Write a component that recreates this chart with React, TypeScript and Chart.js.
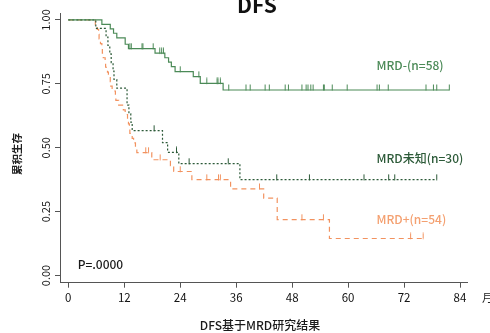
import React, { useEffect, useRef } from "react";
import { Chart, registerables } from "chart.js";

Chart.register(...registerables);

const FONT = '"Noto Sans CJK SC", "Noto Sans", sans-serif';

// axis ticks
const xTicks = [0, 12, 24, 36, 48, 60, 72, 84];
const xTickLabels = ["0", "12", "24", "36", "48", "60", "72", "84"];
const yTicks = [0, 0.25, 0.5, 0.75, 1];
const yTickLabels = ["0.00", "0.25", "0.50", "0.75", "1.00"];

// MRD- (n=58)
const negLabel = "MRD-(n=58)";
const negTimes = [7.2, 9.0, 9.7, 10.4, 12.2, 12.9, 18.6, 20.7, 21.5, 22.1, 22.9, 26.8, 28.3, 33.2];
const negSurv = [0.983, 0.965, 0.948, 0.93, 0.905, 0.888, 0.87, 0.852, 0.835, 0.817, 0.798, 0.778, 0.752, 0.726];
const negCensor = [13.2, 13.5, 15.8, 16.0, 18.2, 19.6, 20.0, 20.4, 24.0, 28.0, 29.7, 31.9, 32.1, 32.6, 34.4, 38.1, 39.0, 42.2, 43.1, 46.5, 47.2, 50.1, 51.0, 51.4, 52.0, 52.5, 54.7, 54.9, 56.6, 59.8, 66.2, 66.7, 68.6, 76.7, 78.3, 79.0, 81.7];

// MRD未知 (n=30)
const unkLabel = "MRD未知(n=30)";
const unkTimes = [5.9, 8.1, 8.5, 8.9, 9.2, 9.6, 9.8, 10.4, 12.6, 13.0, 13.4, 13.7, 20.2, 21.3, 23.7, 36.8];
const unkSurv = [0.967, 0.933, 0.9, 0.867, 0.833, 0.8, 0.767, 0.733, 0.667, 0.633, 0.6, 0.567, 0.52, 0.482, 0.438, 0.375];
const unkCensor = [18.4, 23.2, 25.9, 34.3, 44.7, 51.7, 63.4, 68.7, 70.0, 79.0];

// MRD+ (n=54)
const posLabel = "MRD+(n=54)";
const posTimes = [5.8, 6.2, 6.5, 6.6, 6.9, 7.2, 7.3, 7.5, 7.9, 8.0, 8.4, 8.6, 9.0, 9.1, 9.4, 10.1, 10.2, 10.8, 11.8, 12.2, 12.7, 12.9, 13.1, 13.2, 13.7, 14.0, 14.4, 14.7, 17.9, 21.9, 22.6, 26.5, 34.8, 41.9, 44.8, 56.0];
const posSurv = [0.981, 0.963, 0.944, 0.926, 0.907, 0.889, 0.87, 0.852, 0.833, 0.815, 0.796, 0.778, 0.759, 0.741, 0.722, 0.704, 0.685, 0.667, 0.648, 0.63, 0.611, 0.593, 0.574, 0.556, 0.537, 0.519, 0.5, 0.481, 0.453, 0.43, 0.407, 0.375, 0.339, 0.303, 0.219, 0.145];
const posCensor = [16.6, 17.2, 19.7, 24.0, 29.7, 32.2, 32.6, 41.0, 50.1, 54.7, 73.4, 76.1];

const pValue = "P=.0000";
const chartTitle = "DFS";
const xTitle = "DFS基于MRD研究结果";
const xUnit = "月";
const yTitle = "累积生存";

const NEG_COLOR = "#4b8a57";
const UNK_COLOR = "#2c5a38";
const POS_COLOR = "#f2925f";

function survAt(times: number[], surv: number[], t: number) {
  let s = 1;
  for (let i = 0; i < times.length; i++) if (times[i] <= t) s = surv[i];
  return s;
}

function curve(times: number[], surv: number[], censor: number[]) {
  const end = Math.max(...censor, ...times);
  const pts = [{ x: 0, y: 1 }];
  times.forEach((t, i) => pts.push({ x: t, y: surv[i] }));
  pts.push({ x: end, y: surv[surv.length - 1] });
  return pts;
}

function censorPts(times: number[], surv: number[], censor: number[]) {
  return censor.map((t) => ({ x: t, y: survAt(times, surv, t) }));
}

function tickImage(color: string) {
  const c = document.createElement("canvas");
  c.width = 3;
  c.height = 12;
  const g = c.getContext("2d")!;
  g.strokeStyle = color;
  g.lineWidth = 1;
  g.beginPath();
  g.moveTo(1.5, 0.5);
  g.lineTo(1.5, 6.5);
  g.stroke();
  return c;
}

const textPlugin = {
  id: "texts",
  afterDraw(chart: any) {
    const { ctx, scales, chartArea } = chart;
    const x = scales.x;
    const y = scales.y;
    ctx.save();
    // rotated y tick labels
    ctx.fillStyle = "#1a1a1a";
    ctx.font = `11px ${FONT}`;
    yTicks.forEach((v, i) => {
      ctx.save();
      ctx.translate(chartArea.left - 10, y.getPixelForValue(v));
      ctx.rotate(-Math.PI / 2);
      ctx.textAlign = "center";
      ctx.textBaseline = "alphabetic";
      ctx.fillText(yTickLabels[i], 0, 0);
      ctx.restore();
    });
    // y title
    ctx.save();
    ctx.font = `bold 10.5px ${FONT}`;
    ctx.fillStyle = "#222";
    ctx.translate(21, (chartArea.top + chartArea.bottom) / 2 + 6);
    ctx.rotate(-Math.PI / 2);
    ctx.textAlign = "center";
    ctx.textBaseline = "alphabetic";
    ctx.fillText(yTitle, 0, 0);
    ctx.restore();
    // title
    ctx.font = `bold 21px ${FONT}`;
    ctx.fillStyle = "#111";
    ctx.textAlign = "center";
    ctx.textBaseline = "alphabetic";
    ctx.fillText(chartTitle, 257, 13);
    // x title
    ctx.font = `500 12px ${FONT}`;
    ctx.fillStyle = "#1a1a1a";
    ctx.fillText(xTitle, 260, 330);
    // unit
    ctx.font = `11px ${FONT}`;
    ctx.textAlign = "left";
    ctx.fillText(xUnit, 482, 301.5);
    // p value
    ctx.font = `500 12px ${FONT}`;
    ctx.fillStyle = "#1a1a1a";
    ctx.fillText(pValue, x.getPixelForValue(2.0), y.getPixelForValue(0.027));
    // group labels
    ctx.fillStyle = NEG_COLOR;
    ctx.fillText(negLabel, x.getPixelForValue(66.1), y.getPixelForValue(0.806));
    ctx.fillStyle = UNK_COLOR;
    ctx.fillText(unkLabel, x.getPixelForValue(66.1), y.getPixelForValue(0.442));
    ctx.fillStyle = "#f4a070";
    ctx.fillText(posLabel, x.getPixelForValue(66.1), y.getPixelForValue(0.2));
    ctx.restore();
  },
};

export default function App() {
  const ref = useRef<HTMLCanvasElement>(null);
  useEffect(() => {
    if (!ref.current) return;
    const lineDs = (data: any[], color: string, dash: number[]) => ({
      data,
      borderColor: color,
      borderWidth: 1.2,
      borderDash: dash,
      stepped: "before" as const,
      pointRadius: 0,
      fill: false,
    });
    const tickDs = (data: any[], color: string) => ({
      data,
      showLine: false,
      pointStyle: tickImage(color),
      pointRadius: 3,
      borderColor: color,
      backgroundColor: color,
    });
    const chart = new Chart(ref.current, {
      type: "line",
      data: {
        datasets: [
          lineDs(curve(negTimes, negSurv, negCensor), NEG_COLOR, []),
          lineDs(curve(unkTimes, unkSurv, unkCensor), UNK_COLOR, [2, 2]),
          lineDs(curve(posTimes, posSurv, posCensor), POS_COLOR, [5, 4]),
          tickDs(censorPts(negTimes, negSurv, negCensor), NEG_COLOR),
          tickDs(censorPts(unkTimes, unkSurv, unkCensor), UNK_COLOR),
          tickDs(censorPts(posTimes, posSurv, posCensor), POS_COLOR),
        ] as any,
      },
      options: {
        responsive: false,
        animation: false,
        parsing: false,
        layout: { padding: { top: 13.3, right: 22.3, left: 0, bottom: 0 } },
        plugins: {
          legend: { display: false },
          tooltip: { enabled: false },
          title: { display: false },
        },
        scales: {
          x: {
            type: "linear",
            min: -1.78,
            max: 85.65,
            afterBuildTicks: (s: any) => {
              s.ticks = xTicks.map((v) => ({ value: v }));
            },
            afterFit: (s: any) => {
              s.height = 50.3;
            },
            grid: { drawOnChartArea: false, drawTicks: true, tickLength: 5, color: "#555" },
            border: { display: true, color: "#555", width: 1 },
            ticks: {
              autoSkip: false,
              maxRotation: 0,
              padding: 3,
              color: "#111",
              font: { family: FONT, size: 11.5 },
              callback: (v: any) => xTickLabels[xTicks.indexOf(Number(v))] ?? "",
            },
          },
          y: {
            type: "linear",
            min: -0.028,
            max: 1.026,
            afterBuildTicks: (s: any) => {
              s.ticks = yTicks.map((v) => ({ value: v }));
            },
            afterFit: (s: any) => {
              s.width = 60;
            },
            grid: { drawOnChartArea: false, drawTicks: true, tickLength: 5, color: "#555" },
            border: { display: true, color: "#555", width: 1 },
            ticks: { display: false },
          },
        },
      } as any,
      plugins: [textPlugin],
    });
    return () => chart.destroy();
  }, []);
  return (
    <div style={{ position: "fixed", left: 0, top: 0, width: 490, height: 333, background: "#fff" }}>
      <canvas ref={ref} width={490} height={333} style={{ width: 490, height: 333 }} />
    </div>
  );
}
